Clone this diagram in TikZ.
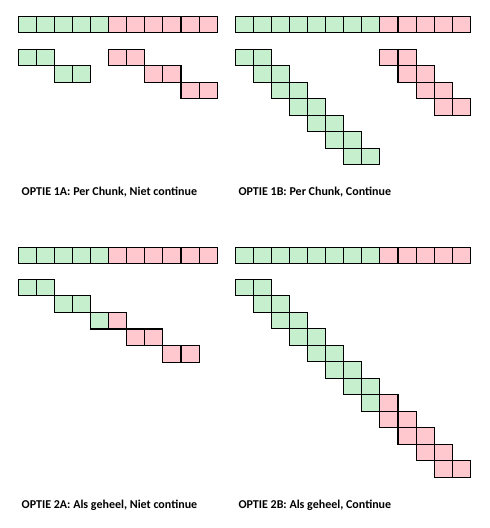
\documentclass[tikz,border=0pt]{standalone}
\usepackage{fontspec}
\setmainfont{Carlito}
\begin{document}
\begin{tikzpicture}[x=1pt,y=-1pt,
  cellg/.style={draw=black,line width=1.1pt,fill={rgb,255:red,198;green,239;blue,206}},
  cellp/.style={draw=black,line width=1.1pt,fill={rgb,255:red,255;green,199;blue,206}},
  lbl/.style={anchor=base west,inner sep=0pt,font=\fontsize{12}{14}\selectfont\bfseries}]
\useasboundingbox (0,0) rectangle (490,528);
\def\cw{18.09}
\def\ch{16.5}
% ---------- 1A ----------
\foreach \c in {0,...,10}{
  \pgfmathsetmacro{\xx}{18.2+\c*\cw}
  \ifnum\c<5 \def\st{cellg}\else\def\st{cellp}\fi
  \draw[\st] (\xx,16.3) rectangle ++(\cw,\ch);
}
\foreach \k in {0,...,3}{
  \pgfmathtruncatemacro{\r}{div(\k,2)}
  \pgfmathtruncatemacro{\c}{2*\r+mod(\k,2)}
  \draw[cellg] ({18.2+\c*\cw},{49.4+\r*\ch}) rectangle ++(\cw,\ch);
}
\foreach \k in {0,...,5}{
  \pgfmathtruncatemacro{\r}{div(\k,2)}
  \pgfmathtruncatemacro{\c}{5+2*\r+mod(\k,2)}
  \draw[cellp] ({18.2+\c*\cw},{49.4+\r*\ch}) rectangle ++(\cw,\ch);
}
% ---------- 1B ----------
\foreach \c in {0,...,12}{
  \pgfmathsetmacro{\xx}{235.3+\c*18.08}
  \ifnum\c<8 \def\st{cellg}\else\def\st{cellp}\fi
  \draw[\st] (\xx,16.3) rectangle ++(18.08,\ch);
}
\foreach \k in {0,...,13}{
  \pgfmathtruncatemacro{\r}{div(\k,2)}
  \pgfmathtruncatemacro{\c}{\r+mod(\k,2)}
  \draw[cellg] ({235.3+\c*18.08},{49.3+\r*\ch}) rectangle ++(18.08,\ch);
}
\foreach \k in {0,...,7}{
  \pgfmathtruncatemacro{\r}{div(\k,2)}
  \pgfmathtruncatemacro{\c}{8+\r+mod(\k,2)}
  \draw[cellp] ({235.3+\c*18.08},{49.3+\r*\ch}) rectangle ++(18.08,\ch);
}
% ---------- 2A ----------
\foreach \c in {0,...,10}{
  \pgfmathsetmacro{\xx}{18.2+\c*\cw}
  \ifnum\c<5 \def\st{cellg}\else\def\st{cellp}\fi
  \draw[\st] (\xx,247.3) rectangle ++(\cw,16);
}
\foreach \k in {0,...,9}{
  \pgfmathtruncatemacro{\r}{div(\k,2)}
  \pgfmathtruncatemacro{\c}{2*\r+mod(\k,2)}
  \ifnum\k<5 \def\st{cellg}\else\def\st{cellp}\fi
  \draw[\st] ({18.2+\c*\cw},{279.2+\r*16.6}) rectangle ++(\cw,16.6);
}
% ---------- 2B ----------
\foreach \c in {0,...,12}{
  \pgfmathsetmacro{\xx}{235.3+\c*18.08}
  \ifnum\c<8 \def\st{cellg}\else\def\st{cellp}\fi
  \draw[\st] (\xx,247.3) rectangle ++(18.08,16);
}
\foreach \k in {0,...,23}{
  \pgfmathtruncatemacro{\r}{div(\k,2)}
  \pgfmathtruncatemacro{\c}{\r+mod(\k,2)}
  \ifnum\k<15 \def\st{cellg}\else\def\st{cellp}\fi
  \draw[\st] ({235.3+\c*18.08},{279.2+\r*\ch}) rectangle ++(18.08,\ch);
}
% ---------- labels ----------
\node[lbl] (l1a) at (21.5,195) {OPTIE 1A: Per Chunk, Niet continue};
\node[lbl] (l1b) at (238.3,195) {OPTIE 1B: Per Chunk, Continue};
\node[lbl] (l2a) at (21.5,508.6) {OPTIE 2A: Als geheel, Niet continue};
\node[lbl] (l2b) at (238.3,508.6) {OPTIE 2B: Als geheel, Continue};
\end{tikzpicture}
\end{document}
